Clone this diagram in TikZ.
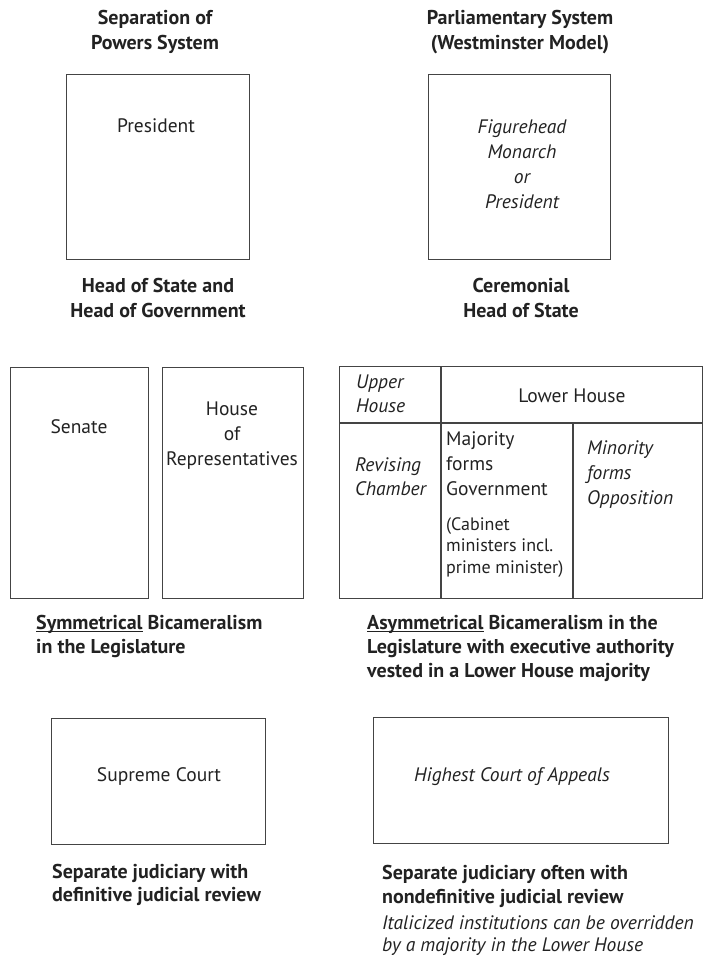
\documentclass[tikz,border=0pt]{standalone}
\usepackage{fontspec}
\setmainfont{PT Sans}
\definecolor{ink}{HTML}{222222}
\definecolor{rule}{HTML}{444444}
\newcommand{\ulword}[1]{\underline{\smash{#1}}}
\begin{document}
\begin{tikzpicture}[x=1pt,y=-1pt,
  box/.style={draw=rule,line width=1.1pt,inner sep=0pt,anchor=north west},
  ttl/.style={font=\bfseries\fontsize{20}{25}\selectfont,text=ink,inner sep=0pt,anchor=north,align=center},
  captxt/.style={font=\bfseries\fontsize{20}{24}\selectfont,text=ink,inner sep=0pt,anchor=north west,align=left},
  lbl/.style={font=\fontsize{19.5}{25}\selectfont,text=ink,inner sep=0pt,anchor=north,align=center},
  lbll/.style={font=\fontsize{19.5}{25}\selectfont,text=ink,inner sep=0pt,anchor=north west,align=left},
  itl/.style={font=\itshape\fontsize{19.5}{25}\selectfont},
  notetxt/.style={font=\itshape\fontsize{19.5}{22}\selectfont,text=ink,inner sep=0pt,anchor=north west,align=left}]
\useasboundingbox (0,0) rectangle (703,961);
% Titles
\node[ttl] (t1) at (155,10) {Separation of\\Powers System};
\node[ttl] (t2) at (520,10) {Parliamentary System\\(Westminster Model)};
% Head of state boxes
\node[box,minimum width=183pt,minimum height=185pt] (pres) at (66,74) {};
\node[lbl] (presT) at (156,118) {President};
\node[box,minimum width=182pt,minimum height=185pt] (fig) at (428,74) {};
\node[lbl,itl] (figT) at (522,119) {Figurehead\\Monarch\\or\\President};
\node[ttl] (h1) at (158,278) {Head of State and\\Head of Government};
\node[ttl] (h2) at (521,278) {Ceremonial\\Head of State};
% Legislature left
\node[box,minimum width=138pt,minimum height=231pt] (sen) at (10,367) {};
\node[lbl] (senT) at (79,419) {Senate};
\node[box,minimum width=141pt,minimum height=231pt] (hor) at (162,367) {};
\node[lbl] (horT) at (232,402) {House\\of\\Representatives};
\node[captxt] (c1) at (36,615) {\ulword{Symmetrical} Bicameralism\\in the Legislature};
% Legislature right table
\node[box,minimum width=363pt,minimum height=232pt] (tbl) at (339,366) {};
\coordinate (hl) at (339,423);
\coordinate (hr) at (702,423);
\coordinate (v1t) at (441,366);
\coordinate (v1b) at (441,598);
\coordinate (v2t) at (573,423);
\coordinate (v2b) at (573,598);
\draw[draw=rule,line width=1.1pt] (hl) -- (hr);
\draw[draw=rule,line width=1.1pt] (v1t) -- (v1b);
\draw[draw=rule,line width=1.1pt] (v2t) -- (v2b);
\node[lbll,itl,font=\itshape\fontsize{19.5}{24}\selectfont] (up) at (356,375) {Upper\\House};
\node[lbl] (low) at (572,389) {Lower House};
\node[lbll,itl,font=\itshape\fontsize{19.5}{24}\selectfont] (rev) at (355,457) {Revising\\Chamber};
\node[lbll] (maj) at (446,431) {Majority\\forms\\Government};
\node[lbll,font=\fontsize{18}{21.5}\selectfont] (cab) at (446,517) {(Cabinet\\ministers incl.\\prime minister)};
\node[lbll,itl] (min) at (587,440) {Minority\\forms\\Opposition};
\node[captxt] (c2) at (367,615) {\ulword{Asymmetrical} Bicameralism in the\\Legislature with executive authority\\vested in a Lower House majority};
% Courts
\node[box,minimum width=214pt,minimum height=126pt] (sc) at (51,718) {};
\node[lbl] (scT) at (159,767) {Supreme Court};
\node[box,minimum width=295pt,minimum height=126pt] (hc) at (373,717) {};
\node[lbl,itl] (hcT) at (512,767) {Highest Court of Appeals};
\node[captxt,font=\bfseries\fontsize{20}{23.5}\selectfont] (j1) at (52,864) {Separate judiciary with\\definitive judicial review};
\node[captxt] (j2) at (382,865) {Separate judiciary often with\\nondefinitive judicial review};
\node[notetxt] (n) at (382,915) {Italicized institutions can be overridden\\by a majority in the Lower House};
\end{tikzpicture}
\end{document}
